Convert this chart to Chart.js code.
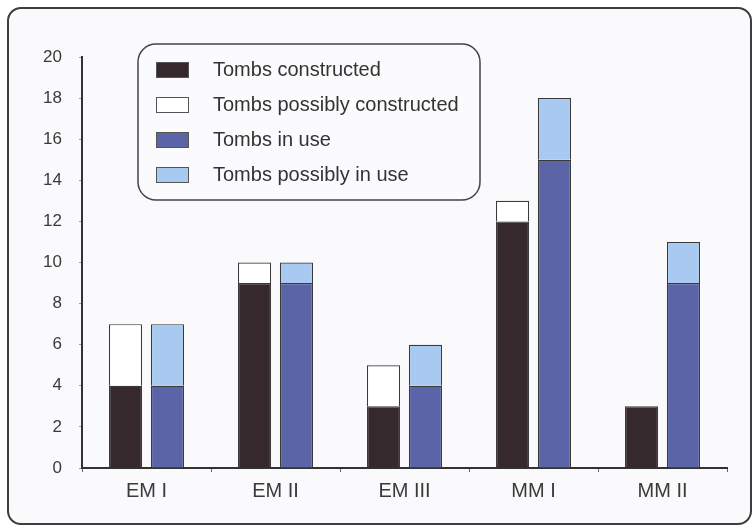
<!DOCTYPE html>
<html>
<head>
<meta charset="utf-8">
<script src="https://cdn.jsdelivr.net/npm/chart.js@4.4.1/dist/chart.umd.min.js"></script>
<style>
  html, body { margin: 0; padding: 0; background: #ffffff; }
  #frame {
    position: absolute; left: 7px; top: 7px; width: 741px; height: 514px;
    border: 2px solid #3d3d3d; border-radius: 14px; background: #fafafc;
  }
  #wrap { position: absolute; left: 0; top: 0; width: 755px; height: 531px; }
</style>
</head>
<body>
<div id="frame"></div>
<div id="wrap"><canvas id="chart" width="755" height="531"></canvas></div>
<script>
var periods = ["EM I", "EM II", "EM III", "MM I", "MM II"];
var constructed = [4, 9, 3, 12, 3];
var possiblyConstructed = [3, 1, 2, 1, 0];
var inUse = [4, 9, 4, 15, 9];
var possiblyInUse = [3, 1, 2, 3, 2];

var fontFamily = '"Liberation Sans", Arial, sans-serif';

// draws the rounded legend box in the upper left of the plot
var boxLegend = {
    id: 'boxLegend',
    afterDraw: function(chart) {
        var ctx = chart.ctx;
        var x = 138, y = 44, w = 342, h = 156, r = 18;
        ctx.save();
        ctx.beginPath();
        ctx.roundRect(x, y, w, h, r);
        ctx.fillStyle = '#fbfbfd';
        ctx.fill();
        ctx.lineWidth = 1.5;
        ctx.strokeStyle = '#444';
        ctx.stroke();
        ctx.font = '20px ' + fontFamily;
        ctx.textBaseline = 'middle';
        chart.data.datasets.forEach(function(ds, i) {
            var ry = 70 + i * 35;
            ctx.fillStyle = ds.backgroundColor;
            ctx.fillRect(156, ry - 8, 33, 16);
            ctx.lineWidth = 1;
            ctx.strokeStyle = '#555';
            ctx.strokeRect(156.5, ry - 7.5, 32, 15);
            ctx.fillStyle = '#333';
            ctx.fillText(ds.label, 213, ry);
        });
        ctx.restore();
    }
};

var ctx = document.getElementById("chart").getContext("2d");
var edge = function(c) { return c.raw ? 1.2 : 0; };
var myChart = new Chart(ctx, {
    type: 'bar',
    data: {
        labels: periods,
        datasets: [
            { label: 'Tombs constructed', data: constructed, stack: 'c', backgroundColor: '#36292d' },
            { label: 'Tombs possibly constructed', data: possiblyConstructed, stack: 'c', backgroundColor: '#ffffff' },
            { label: 'Tombs in use', data: inUse, stack: 'u', backgroundColor: '#5b64a7' },
            { label: 'Tombs possibly in use', data: possiblyInUse, stack: 'u', backgroundColor: '#a8caf0' }
        ]
    },
    options: {
        responsive: false,
        animation: false,
        categoryPercentage: 0.65,
        barPercentage: 0.79,
        datasets: {
            bar: { borderColor: '#3a3a3a', borderWidth: edge, borderSkipped: 'bottom' }
        },
        layout: { padding: { left: 0, top: 57, right: 28, bottom: 0 } },
        plugins: {
            legend: { display: false },
            tooltip: { enabled: false }
        },
        scales: {
            x: {
                stacked: true,
                grid: { drawOnChartArea: false, drawTicks: true, tickLength: 4, color: '#666', offset: true },
                border: { display: true, color: '#333', width: 2 },
                ticks: { color: '#3a3a3a', padding: 7, font: { family: fontFamily, size: 20 } },
                afterFit: function(scale) { scale.height = 63; }
            },
            y: {
                stacked: true,
                min: 0,
                max: 20,
                ticks: { stepSize: 2, color: '#3a3a3a', padding: 17, font: { family: fontFamily, size: 17 } },
                grid: { drawOnChartArea: false, drawTicks: true, tickLength: 3, color: '#999' },
                border: { display: true, color: '#333', width: 2 },
                afterFit: function(scale) { scale.width = 82; }
            }
        }
    },
    plugins: [boxLegend]
});
</script>
</body>
</html>
